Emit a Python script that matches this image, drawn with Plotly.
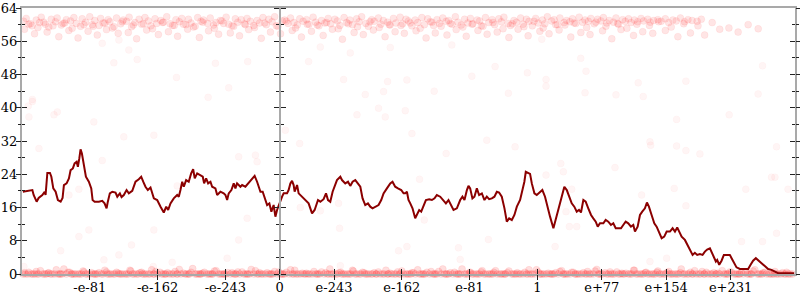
import plotly.graph_objects as go

# x unit: signed decade position of a float, sign(v) * (log10|v| + 308); 0 -> 0
TICK_VALS = [-227, -146, -65, 0, 65, 146, 227, 308, 385, 462, 539]
TICK_TEXT = ["-e-81", "-e-162", "-e-243", "0", "e-243", "e-162", "e-81", "1", "e+77", "e+154", "e+231"]
X_MIN, X_MAX = -308, 616
Y_MIN, Y_MAX = 0, 64

LINE_X = [-307,-295.6,-294.1,-290.5,-288.1,-283.7,-280.9,-279.8,-277.7,-274.6,-272.9,-270.6,-267.8,-265.1,-261.8,-259.5,-257.9,-254.7,-251.9,-249.9,-247.2,-245.1,-242.7,-241.2,-239.5,-238,-236.4,-234,-231.6,-228.1,-225.2,-223.6,-221.2,-216.1,-212.1,-209.3,-206.9,-205.4,-203,-200.1,-196.2,-194.1,-191,-189,-186.3,-183,-180.3,-176.2,-172.3,-168.4,-165.5,-163.1,-160.4,-157.6,-154.4,
-150.4,-146.4,-142.4,-138.5,-135.6,-133.3,-130.5,-126.6,-122.5,-120.6,-118.6,-116.5,-114.6,-111.8,-108.7,-105.8,-103.4,-101.5,-98.6,-94.7,-91.9,-90.3,-87.9,-85.5,-82.7,-80.7,-76.8,-74.7,-70.8,-66.9,-64.8,-62.8,-60.9,-57.7,-54.9,-52.9,-50.9,-46.9,-44.9,-41,-37,-33.8,-29.9,-27,-23,-20.3,-17.1,-15,-12.3,-9.9,-7.2,-5.1,-3.1,-0.4,
2.9,4.8,8.8,10.7,12.8,14.8,16.7,17.9,20.8,22.7,26.7,30.7,34.6,38.7,41.8,45.8,48.6,52.5,55.4,57.8,60.5,63.3,66.5,68.5,72.5,74.5,78.4,81.7,84.4,87.2,90.4,93.6,96.4,99.1,102.3,105.5,108.3,111,114.3,118.2,121.4,124.2,128.2,132.2,134.9,138.1,141.4,145.3,148.1,150.1,152.1,154,156.1,158.8,162,164.1,166.8,169.2,171.9,174.8,178.7,182,185.1,187.9,191.9,195.8,198.7,201.8,205,207.8,211.8,215.8,218.5,220.9,223.8,225.7,227.7,230.4,232.8,235.7,238.4,241.7,244.8,247.6,250.4,253.6,256.7,259.6,262.3,265.5,268.7,271.5,274.3,277.5,280.6,283.5,287.4,290.1,292.5,294.2,297.3,299.3,301.4,304.5,307.3,311.3,314,317.2,320.5,323.2,327.2,330,333.1,336.3,340.3,343.2,345.9,349.1,352.2,355.1,357.8,360.2,363,365.8,368.9,372.2,374.9,377.8,380.2,382.9,386.9,389.7,392.8,396,398.8,401.7,404.8,408,410.7,413.6,416.7,419.9,422.7,424.7,427.9,430.7,433.4,436.6,439,441.4,444.6,447.8,450.6,453.4,456.6,459.7,462.6,466.5,469.7,472.5,475.2,477.6,480.5,484.4,488.3,491.2,493.6,496.3,499.1,502.3,505.5,508.3,511,514.3,516.3,519,521.4,523,525.4,528.2,531,534.2,538.1,540.2,542.9,546.1,550.1,556,560,562.9,565.9,569.2,571.9,576,579.9,583.9,587.9,591.9,595.8,601.8,615]
LINE_Y = [19.8,20.2,19,17.4,18.3,19,19.8,19,24.3,24.3,23.4,20.6,19.8,17.8,17.4,18.3,21.4,21.8,23,25,25.4,26.6,27,25.8,27.8,30,29,25.8,23.4,22.2,20.6,17.8,17.4,17.4,17.6,17,15.8,17.4,19.4,19.8,19.6,18.6,19.4,18.5,19,20.2,19.4,20,22.2,22.8,23.4,22.2,21,20.2,20.8,
18.2,17.8,16.2,14.8,16.2,15.4,17,18.2,19,18.6,20.2,22.2,21,22.6,22.2,24.2,25.2,23,24.2,23.8,23.4,21.8,23,21.8,22.2,21,20.6,19,19.8,19.4,19,17.8,19.4,20.2,21.8,20.6,21.8,21,21.4,21,22,22.6,23.6,22.2,19.8,19.8,17.8,16.6,17,15,16.6,13.8,15.4,17,
18.6,19.4,19.4,20.2,21.8,22.4,21.4,19.8,21.4,19.4,18.6,17.8,17,14.6,15.4,17.8,17.4,18,19.4,17.8,17.4,19.8,21.8,22.6,23.4,22.6,21.8,22.2,21.2,22.2,22.6,21.8,21,18.2,16.6,17,16.2,15.8,16.2,16.6,17.8,19.4,20.6,21.8,22.2,21,20.6,20.2,19.4,19.4,19.8,17.8,17,15.8,13.4,14.2,15.4,15,16.2,17.8,18,17.8,18.2,19,18.6,17.8,17,17.8,16.6,15.4,15.8,17.8,18.6,17.8,20.2,21.2,20.6,18.2,18.6,20.6,19,19.4,17.8,18.6,18,18.2,18.6,19.8,19.6,18.6,15.8,12.6,13.4,13,14.2,16.2,17.8,20.2,22.2,24.6,24.2,24.1,21.8,19.4,19,19.8,20.2,18.6,15.8,13.8,11,13,15.8,17.8,21,20.2,18.6,17,16.2,15,15.4,14.8,17.8,17.4,15.8,14.2,13.4,12.6,11.4,12.2,12.2,13,12.6,11.8,12.2,11,11,11,11.8,12.6,12.2,11.4,11.8,10.2,11.4,14.2,15,15.8,17.2,16.2,14.2,12.2,11.4,10.2,8.6,9,10.2,10.2,11,10.2,11.2,10.2,9,8.2,6.6,5.4,4.6,5.1,4.6,4.8,4.6,5.4,5.9,6.2,5.4,4.2,3,3.4,2.2,3.2,4.6,4.6,4.6,3.8,2.6,1.6,1.2,1.2,1.2,2.2,3.2,3.8,3.4,2.6,1.9,1.2,1,0.6,0.2,0.2,0.2]

TOP_XA = [-306,-303,-298,-296,-291,-287,-285,-280,-276,-273,-268,-266,-261,-257,-255,-250,-246,-243,-238,-236,-232,-227,-224,-221,-216,-214,-209,-205,-203,-198,-195,-190,-187,-183,-180,-175,-173,-168,-165,-161,-157,-154,-149,-147,-142,-139,-135,-131,-128,-124,-120,-117,-112,-109,-106,-101,-98,-94,-91,-86,-83,-79,-76,-71,-69,-64,-61,-57,-53,-50,-46,-42,-39,-35,-31,-27,-24,-20,-16,-13,-9,-6,-2,3,6,10,13,17,21,24,28,32,35,40,43,47,50,54,58,61,66,69,72,77,80,84,87,92,95,98,103,106,110,113,118,121,124,129,132,136,139,144,147,151,154,158,162,165,170,173,177,180,184,188,191,195,199,202,206,210,213,217,221,225,228,231,236,239,243,246,250,254,257,262,265,268,273,276,280,283,288,291,295,298,302,306,309,314,317,320,325,328,332,335,340,343,347,350,354,358,362,365,369,372,376,380,384,387,391,394,399,402,405,410,413,417,420,424,428,432,435,440,443,447,452,456,461,465,470,474,479,484,488,493,499,504,509,515,521,527,534,540,546,553,560,567,575,583]
TOP_YA = [60.8,61.5,60.2,59.7,61.1,60.5,61.8,60.1,59.4,61.3,60.7,61.6,59.9,60.4,61.2,60.9,61.7,60.3,59.6,61.4,
60.6,61.9,60.0,61.0,59.8,61.5,60.4,61.2,60.7,59.5,61.6,60.2,61.1,60.8,61.8,59.9,60.5,61.3,60.1,61.7,
60.9,59.7,61.4,60.3,61.0,60.6,61.9,60.2,59.8,61.2,60.7,61.5,60.0,61.3,60.4,59.6,61.7,60.8,61.1,60.3,
61.6,59.9,60.5,61.0,60.9,61.8,60.1,59.7,61.4,60.6,61.2,60.2,61.5,60.8,59.8,61.0,60.4,61.7,60.0,61.3,
60.7,61.9,59.6,60.9,61.1,60.3,61.6,60.5,59.9,61.4,60.8,61.2,60.1,61.8,60.6,59.7,61.0,60.4,61.5,60.2,
61.3,60.9,59.8,61.7,60.5,61.1,60.0,61.4,60.7,61.9,60.3,59.6,61.2,60.8,61.6,60.1,61.0,60.6,59.9,61.5,
60.4,61.8,60.2,61.3,60.9,59.7,61.1,60.5,61.7,60.0,61.4,60.7,59.8,61.2,60.3,61.6,60.8,61.0,60.1,61.9,
60.6,59.9,61.3,60.4,61.5,60.2,61.1,60.9,59.6,61.7,60.5,61.2,60.0,61.4,60.7,61.8,60.3,59.8,61.0,60.6,
61.6,60.1,61.3,60.8,59.7,61.5,60.4,61.1,60.2,61.9,60.9,61.2,60.0,61.6,60.5,61.0,60.7,61.4,60.3,61.8,
60.6,61.1,60.8,61.5,60.2,61.3,60.9,61.7,60.4,61.0,60.6,61.6,60.1,61.2,60.8,61.4,60.5,61.1,60.7,61.5,
60.9,61.3,60.6,61.0,61.2,60.8,61.4,60.5,61.1,60.9,61.6,60.7,61.2,61.0,60.8,61.3]

TOP_XB = [-305,-300,-293,-289,-282,-278,-271,-264,-259,-252,-248,-241,-234,-229,-223,-218,-211,-207,-200,-193,-188,-181,-177,-171,-163,-159,-152,-145,-140,-133,-126,-122,-115,-110,-103,-96,-92,-85,-78,-73,-67,-59,-55,-48,-41,-37,-30,-22,-18,-11,-4,1,8,15,19,26,33,38,45,52,56,63,70,75,82,89,93,100,108,112,119,126,131,138,145,149,156,163,168,175,182,186,193,200,204,211,219,223,230,237,241,248,255,260,267,274,278,285,292,297,304,311,315,322,330,334,341,348,352,360,367,371,378,386,390,397,404,408,415,423,427,434,442,446,453,461,468,476,483,491,500,508,517,526,537,548,560,572]
TOP_YB = [58.9,60.1,57.8,59.3,60.6,58.2,59.7,57.1,60.3,58.6,59.1,56.8,60.0,58.4,59.6,57.5,60.4,58.8,59.2,57.9,60.7,58.1,59.5,56.6,60.2,58.7,59.0,57.6,60.5,58.3,59.8,57.2,60.1,58.9,59.4,56.9,60.6,58.5,59.1,57.7,60.3,58.0,59.6,57.3,60.0,58.8,59.3,56.7,60.4,58.2,59.7,57.8,60.8,58.6,59.2,57.0,60.1,58.4,59.9,57.4,60.5,58.9,59.0,56.5,60.2,58.1,59.5,57.6,60.7,58.7,59.3,57.1,60.0,58.3,59.8,57.9,60.4,58.5,59.1,56.8,60.6,58.0,59.6,57.5,60.3,58.8,59.4,57.2,60.1,58.6,59.7,57.7,60.5,58.2,59.0,56.9,60.2,58.9,59.5,57.3,60.8,58.4,59.2,57.8,60.0,58.7,59.9,57.0,60.4,58.1,59.3,57.6,60.6,58.5,59.6,56.6,60.3,58.8,59.1,57.4,60.1,58.3,59.8,57.9,60.7,58.6,59.4,57.1,60.2,58.0,59.7,57.5,60.5,58.9,59.2,58.2,60.0,59.0,59.6,58.4,60.3,59.3,60.1]

BOT_X = [-307,-304,-300,-297,-293,-290,-286,-283,-279,-276,-272,-269,-265,-262,-258,-255,-251,-248,-244,-241,-237,-234,-230,-227,-223,-220,-216,-213,-209,-206,-202,-199,-195,-192,-188,-185,-181,-178,-174,-171,-167,-164,-160,-157,-153,-150,-146,-143,-139,-136,-132,-129,-125,-122,-118,-115,-111,-108,-104,-101,-97,-94,-90,-87,-83,-80,-76,-73,-69,-66,-62,-59,-55,-52,-48,-45,-41,-38,-34,-31,-27,-24,-20,-17,-13,-10,-6,-3,1,4,8,11,15,18,22,25,29,32,36,39,43,46,50,53,57,60,64,67,71,74,78,81,85,88,92,95,99,102,106,109,113,116,120,123,127,130,134,137,141,144,148,151,155,158,162,165,169,172,176,179,183,186,190,193,197,200,204,207,211,214,218,221,225,228,232,235,239,242,246,249,253,256,260,263,267,270,274,277,281,284,288,291,295,298,302,305,309,312,316,319,323,326,330,333,337,340,344,347,351,354,358,361,365,368,372,375,379,382,386,389,393,396,400,403,407,410,414,417,421,424,428,431,435,438,442,445,449,452,456,459,463,466,470,473,477,480,484,487,491,494,498,501,505,508,512,515,519,522,526,529,533,536,540,543,547,550,554,557,561,564,568,571,575,578,582,585,589,592,596,599,603,606,610,613]
BOT_Y = [0,0,0.4,0,0,0,0.8,0,0,0.3,0,0,0,0,1.2,0,0.4,0,0,0,
0,0.5,0,0,0,0,0.3,0,0.9,0,0,0,0.4,0,0,0,0,0.7,0,0,
0.3,0,0,0,1.0,0,0,0.4,0,0,0,0,0.6,0,0,0.2,0,0,1.3,0,
0,0,0.4,0,0,0,0.8,0,0,0,0.3,0,0,0,0,0.5,0,0,1.1,0,
0,0.3,0,0,0,0,0.6,0,0,0,0.4,0,0,0.9,0,0,0,0.2,0,0,
0,0,0.5,0,0,1.2,0,0,0.3,0,0,0,0,0.7,0,0,0.4,0,0,0,
0.3,0,0,0,0.9,0,0,0,0.5,0,0,0,0,0.3,0,1.0,0,0,0.4,0,
0,0,0.6,0,0,0,0.3,0,0,0,1.2,0,0,0.4,0,0,0,0.8,0,0,
0,0.4,0,0,0,0,0.7,0,0,0.3,0,0,0,1.0,0,0,0.5,0,0,0,
0,0,0.3,0,0.8,0,0,0,0.4,0,0,0,0,0.6,0,0,1.1,0,0,0.3,
0,0,0,0.5,0,0,0.2,0,0,0.9,0,0,0,0.4,0,0,0,0.7,0,0,
0.3,0,0,0,0,1.2,0,0,0.4,0,0,0,0.6,0,0,0,0.3,0,0,0.8,
0,0,0.4,0,0,0,0,0.5,0,0,1.0,0,0,0.3,0,0,0,0.6,0,0,
0,0.4,0,0,0.8,0,0,0,0.3,0,0,0.5,0,0,0,0,0.4,0,0,0]

BOT_X2 = [-305,-301,-295,-291,-288,-281,-277,-274,-267,-263,-260,-253,-249,-246,-239,-235,-232,-225,-221,-218,-211,-207,-204,-197,-193,-190,-183,-179,-176,-169,-165,-162,-155,-151,-148,-141,-137,-134,-127,-123,-120,-113,-109,-106,-99,-95,-92,-85,-81,-78,-71,-67,-64,-57,-53,-50,-43,-39,-36,-29,-25,-22,-15,-11,-8,-1,3,6,13,17,20,27,31,34,41,45,48,55,59,62,69,73,76,83,87,90,97,101,104,111,115,118,125,129,132,139,143,146,153,157,160,167,171,174,181,185,188,195,199,202,209,213,216,223,227,230,237,241,244,251,255,258,265,269,272,279,283,286,293,297,300,307,311,314,321,325,328,335,339,342,349,353,356,363,367,370,377,381,384,391,395,398,405,409,412,419,423,426,433,437,440,447,451,454,461,465,468,475,479,482,489,493,496,503,507,510,517,521,524,531,535,538,545,549,552,559,563,566,573,577,580,587,591,594,601,605,608,612]
BOT_Y2 = [0.3,0,0,0.6,0,0,0.2,0,1.0,0,0,0.4,0,0,0,0.7,0,0.3,0,0,
0,0.5,0,0,0.2,0,0,0.9,0,0,0.4,0,0,0,0.6,0,0,0.3,0,0,
1.1,0,0,0.4,0,0,0.2,0,0,0.7,0,0,0,0.3,0,0.5,0,0,0,0.8,
0,0,0.3,0,0,0.5,0,0,1.0,0,0,0.2,0,0,0.6,0,0,0.3,0,0,
0,0.4,0,0,0.9,0,0,0.3,0,0,0,0.5,0,0,0.2,0,0,0.7,0,0,
0.3,0,0,0,0.6,0,0,1.2,0,0,0.4,0,0,0,0.3,0,0,0.5,0,0,
0,0.8,0,0,0.3,0,0,0,0.4,0,0,1.0,0,0,0.2,0,0,0.6,0,0,
0.4,0,0,0.3,0,0,0.7,0,0,0,0.5,0,0,0.2,0,0,0.9,0,0,0.3,
0,0,0.4,0,0,0.6,0,0,0.3,0,0,0,0.8,0,0,0.4,0,0,0.2,0,
0,0.5,0,0,0.3,0,0,0.7,0,0,0.4,0,0,0,0.3,0,0]

MID_X = [-295.6,-299.7,-269.8,-265.8,-287.8,-222.1,-186.3,-150.4,-212.1,-240,-251.9,-228.1,-240,-261.8,-177.1,-192.2,-210.1,-150.4,-151,-128.5,-122.5,-49,-29,-27,-38.9,-49,-62.8,-300.5,-305.7,-198.2,-170.3,-123.3,-85.5,-60.9,-38.2,-76.8,-295.6,-212.1,-192.2,-180.3,84.4,34.6,76.4,129,152.1,102.3,124.2,184.7,229.7,257.5,296.1,273.4,318.4,318.4,205.8,132.2,48.6,359.9,366.2,428.6,485.6,577.2,365,402,434.6,571.9,313.3,92.4,118.2,126.2,150.1,6.8,23.9,158.1,199,247.6,281.4,167.2,70.4,48.6,24.7,71.6,152.1,142.1,213.7,215.8,249.5,72.5,172.8,318.4,474.5,537.3,442.6,443.5,474.5,485.6,502.3,400.8,336,339.1,593.9,587.9,592,607.7,557.2,471.6,432.7,342.3,346.3,355.1,329.2,485.6,462.6,442.6,552.1,577.2,593.9,349.1]
MID_Y = [41.5,37.8,38.3,39,30.2,36.6,33,33.4,27.3,20.4,19,10.6,9,5.6,7,4.6,3.4,10.6,1.8,2.8,21.2,28.2,28.6,27,13.4,8.2,3.8,40.4,1.8,50.8,51.6,47.3,42.5,44.8,51.1,50.7,42,55.5,56.3,53.9,53.2,51.1,46.8,46.3,46.7,43.2,43.9,44,47.6,49.9,48.4,43.5,46.8,45.2,55.1,54.5,54.6,51.9,48.8,46,46.4,50.1,43.6,43.1,42.7,43.3,56.5,38.3,39.9,37.8,39.3,34.6,31.4,33.8,29,32.2,30.6,22.8,17,15.2,16,11,6.6,5.6,6.3,3.5,8.3,2,13,23.8,37.2,38.3,31.8,31,30.8,29.7,28.9,25.6,26.6,24.6,30.6,23.3,23.3,20.4,20.4,20.6,19,15,11.4,11.4,6.6,16.4,3.8,3,7.8,7.8,9.8,20.4]

FONT = dict(family="DejaVu Serif", size=13, color="black")
AXIS_GRAY = "#a9a9a9"
TICK_COL = "#222222"

top_marker = dict(size=7, color="rgba(255,0,0,0.1)", line=dict(color="rgba(255,0,0,0.09)", width=0.6))
bot_marker = dict(size=7, color="rgba(255,0,0,0.13)", line=dict(color="rgba(255,0,0,0.12)", width=0.6))
mid_marker = dict(size=7, color="rgba(255,0,0,0.04)", line=dict(color="rgba(255,0,0,0.045)", width=0.6))

fig = go.Figure()
for xs, ys, mk in [(BOT_X, BOT_Y, bot_marker), (BOT_X2, BOT_Y2, bot_marker), (TOP_XA, TOP_YA, top_marker),
                   (TOP_XB, TOP_YB, top_marker), (MID_X, MID_Y, mid_marker)]:
    pts = list(zip(xs, ys))
    fig.add_trace(go.Scatter(x=[p[0] for p in pts], y=[p[1] for p in pts], mode="markers",
                             marker=mk, cliponaxis=False, showlegend=False, hoverinfo="skip"))
fig.add_trace(go.Scatter(x=LINE_X, y=LINE_Y, mode="lines", line=dict(color="#8b0000", width=2),
                         showlegend=False, hoverinfo="skip"))
# placeholder traces so the extra tick axes get drawn
fig.add_trace(go.Scatter(x=[None], y=[None], xaxis="x2", yaxis="y2", showlegend=False, hoverinfo="skip"))
fig.add_trace(go.Scatter(x=[None], y=[None], xaxis="x", yaxis="y3", showlegend=False, hoverinfo="skip"))
fig.add_trace(go.Scatter(x=[None], y=[None], xaxis="x", yaxis="y4", showlegend=False, hoverinfo="skip"))

zero_pos = (0 - X_MIN) / (X_MAX - X_MIN)

common_x = dict(range=[X_MIN, X_MAX], tickmode="array", tickvals=TICK_VALS, showgrid=False,
                zeroline=False, automargin=False, ticklen=5, tickwidth=1, tickcolor=TICK_COL)
common_y = dict(range=[Y_MIN, Y_MAX], tickmode="linear", tick0=0, dtick=8, showgrid=False,
                zeroline=False, automargin=False, ticklen=5, tickwidth=1, tickcolor=TICK_COL)

fig.update_layout(
    width=800, height=300,
    margin=dict(l=22, r=5, t=8, b=26),
    paper_bgcolor="white", plot_bgcolor="white",
    font=FONT,
    # labelled axes carry the inside half of each crossing tick; the overlays carry the outside half
    xaxis=dict(**common_x, ticktext=TICK_TEXT, ticks="inside", showline=True, linecolor=AXIS_GRAY,
               linewidth=2, mirror=True, tickfont=FONT),
    xaxis2=dict(**common_x, overlaying="x", anchor="y", ticks="outside", showticklabels=False, showline=False),
    yaxis=dict(**common_y, ticks="inside", showline=True, linecolor=AXIS_GRAY, linewidth=2, mirror="ticks",
               tickfont=FONT, minor=dict(ticks="inside", ticklen=3, dtick=4, tickcolor=TICK_COL)),
    yaxis2=dict(**common_y, overlaying="y", anchor="x", ticks="outside", showticklabels=False, showline=False,
                mirror="ticks", minor=dict(ticks="outside", ticklen=3, dtick=4, tickcolor=TICK_COL)),
    yaxis3=dict(**common_y, overlaying="y", anchor="free", position=zero_pos, side="left", ticks="outside",
                showticklabels=False, showline=True, linecolor=AXIS_GRAY, linewidth=2,
                minor=dict(ticks="outside", ticklen=3, dtick=4, tickcolor=TICK_COL)),
    yaxis4=dict(**common_y, overlaying="y", anchor="free", position=zero_pos, side="right", ticks="outside",
                showticklabels=False, showline=False,
                minor=dict(ticks="outside", ticklen=3, dtick=4, tickcolor=TICK_COL)),
)

fig.write_html("out.html")
